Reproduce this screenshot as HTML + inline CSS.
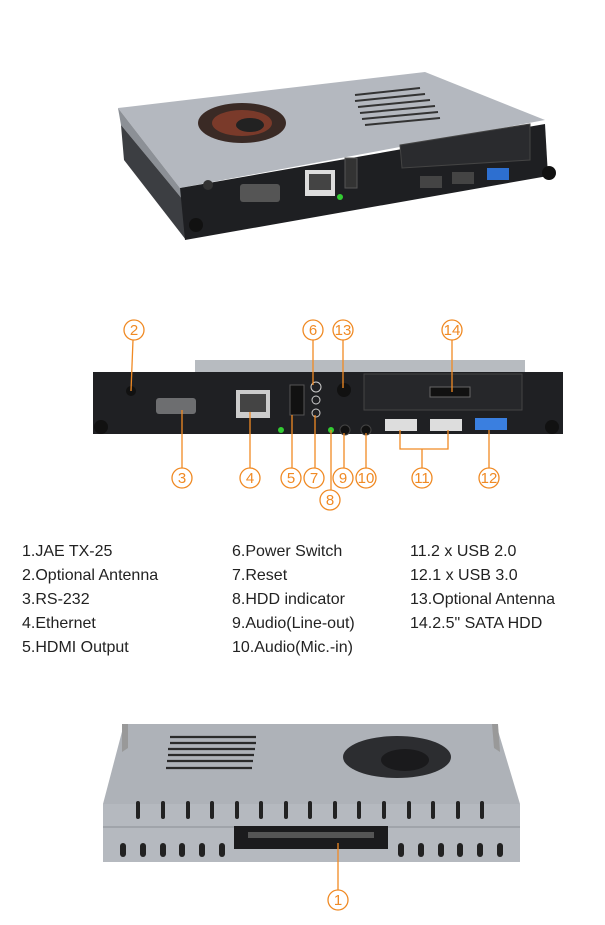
<!DOCTYPE html>
<html><head><meta charset="utf-8"><style>
html,body{margin:0;padding:0;background:#fff}
svg{display:block}
.t{font-family:"Liberation Sans Narrow","Liberation Sans",sans-serif;font-size:16px;fill:#222}
.c{fill:#fff;stroke:#f08a24;stroke-width:1.3}
.n{font-family:"Liberation Sans Narrow","Liberation Sans",sans-serif;font-size:15px;fill:#f08a24;text-anchor:middle}
.l{stroke:#f08a24;stroke-width:1.3;fill:none}
</style></head><body>
<svg width="605" height="925" viewBox="0 0 605 925" xmlns="http://www.w3.org/2000/svg">
<!-- TOP DEVICE -->
<polygon points="118,108 425,72 545,120 180,188" fill="#b4b8bf"/>
<polygon points="118,108 180,188 183,200 121,125" fill="#8c9096"/>
<polygon points="121,125 183,200 186,240 124,160" fill="#3c3e42"/>
<ellipse cx="242" cy="123" rx="44" ry="20" fill="#3a2a25"/>
<ellipse cx="242" cy="123" rx="30" ry="13" fill="#7a3a2a"/>
<ellipse cx="250" cy="125" rx="14" ry="7" fill="#222"/>
<g stroke="#333" stroke-width="2">
<line x1="355" y1="95" x2="420" y2="88"/><line x1="355" y1="101" x2="425" y2="94"/>
<line x1="358" y1="107" x2="430" y2="100"/><line x1="360" y1="113" x2="435" y2="106"/>
<line x1="362" y1="119" x2="438" y2="112"/><line x1="365" y1="125" x2="440" y2="118"/>
</g>
<polygon points="180,188 545,124 548,176 185,240" fill="#1e1f22"/>
<polygon points="400,145 530,124 530,160 402,168" fill="#2a2b2e" stroke="#444"/>
<rect x="240" y="184" width="40" height="18" rx="3" fill="#555"/>
<rect x="305" y="170" width="30" height="26" fill="#ddd"/><rect x="309" y="174" width="22" height="16" fill="#444"/>
<rect x="345" y="158" width="12" height="30" fill="#333" stroke="#555"/>
<rect x="420" y="176" width="22" height="12" fill="#444"/><rect x="452" y="172" width="22" height="12" fill="#444"/>
<rect x="487" y="168" width="22" height="12" fill="#2d6fd0"/>
<circle cx="208" cy="185" r="5" fill="#333"/>
<circle cx="196" cy="225" r="7" fill="#111"/><circle cx="549" cy="173" r="7" fill="#111"/>
<circle cx="340" cy="197" r="3" fill="#3c3"/>

<!-- MIDDLE DEVICE -->
<rect x="195" y="360" width="330" height="13" fill="#b7bbc0"/>
<rect x="93" y="372" width="470" height="62" fill="#1f2023"/>
<rect x="364" y="374" width="158" height="36" fill="#26272a" stroke="#444"/>
<rect x="430" y="387" width="40" height="10" fill="#111" stroke="#666"/>
<circle cx="131" cy="391" r="5" fill="#111"/>
<rect x="156" y="398" width="40" height="16" rx="3" fill="#6d6e70"/>
<rect x="236" y="390" width="34" height="28" fill="#ccc"/><rect x="240" y="394" width="26" height="18" fill="#444"/>
<rect x="290" y="385" width="14" height="30" fill="#111" stroke="#555"/>
<circle cx="316" cy="387" r="5" fill="none" stroke="#ccc"/><circle cx="316" cy="400" r="4" fill="none" stroke="#ccc"/><circle cx="316" cy="413" r="4" fill="none" stroke="#ccc"/>
<circle cx="344" cy="390" r="7" fill="#111"/>
<circle cx="345" cy="430" r="5" fill="#111" stroke="#444"/><circle cx="366" cy="430" r="5" fill="#111" stroke="#444"/>
<rect x="385" y="419" width="32" height="12" fill="#ddd"/><rect x="430" y="419" width="32" height="12" fill="#ddd"/>
<rect x="475" y="418" width="32" height="12" fill="#3a7fe0"/>
<circle cx="101" cy="427" r="7" fill="#111"/><circle cx="552" cy="427" r="7" fill="#111"/>
<circle cx="281" cy="430" r="3" fill="#3c3"/><circle cx="331" cy="430" r="3" fill="#3c3"/>

<!-- callouts -->
<line class="l" x1="133" y1="340" x2="131" y2="391"/>
<line class="l" x1="313" y1="340" x2="313" y2="385"/>
<line class="l" x1="343" y1="340" x2="343" y2="388"/>
<line class="l" x1="452" y1="340" x2="452" y2="392"/>
<line class="l" x1="182" y1="410" x2="182" y2="468"/>
<line class="l" x1="250" y1="412" x2="250" y2="468"/>
<line class="l" x1="292" y1="415" x2="292" y2="468"/>
<line class="l" x1="315" y1="415" x2="315" y2="468"/>
<line class="l" x1="331" y1="430" x2="331" y2="490"/>
<line class="l" x1="344" y1="433" x2="344" y2="468"/>
<line class="l" x1="366" y1="433" x2="366" y2="468"/>
<polyline class="l" points="400,430 400,449 448,449 448,430"/>
<line class="l" x1="422" y1="449" x2="422" y2="468"/>
<line class="l" x1="489" y1="430" x2="489" y2="468"/>
<g>
<circle class="c" cx="134" cy="330" r="10"/><text class="n" x="134" y="335">2</text>
<circle class="c" cx="313" cy="330" r="10"/><text class="n" x="313" y="335">6</text>
<circle class="c" cx="343" cy="330" r="10"/><text class="n" x="343" y="335">13</text>
<circle class="c" cx="452" cy="330" r="10"/><text class="n" x="452" y="335">14</text>
<circle class="c" cx="182" cy="478" r="10"/><text class="n" x="182" y="483">3</text>
<circle class="c" cx="250" cy="478" r="10"/><text class="n" x="250" y="483">4</text>
<circle class="c" cx="291" cy="478" r="10"/><text class="n" x="291" y="483">5</text>
<circle class="c" cx="314" cy="478" r="10"/><text class="n" x="314" y="483">7</text>
<circle class="c" cx="343" cy="478" r="10"/><text class="n" x="343" y="483">9</text>
<circle class="c" cx="366" cy="478" r="10"/><text class="n" x="366" y="483">10</text>
<circle class="c" cx="422" cy="478" r="10"/><text class="n" x="422" y="483">11</text>
<circle class="c" cx="489" cy="478" r="10"/><text class="n" x="489" y="483">12</text>
<circle class="c" cx="330" cy="500" r="10"/><text class="n" x="330" y="505">8</text>
</g>

<!-- LEGEND -->
<g class="t">
<text x="22" y="556">1.JAE TX-25</text>
<text x="22" y="580">2.Optional Antenna</text>
<text x="22" y="604">3.RS-232</text>
<text x="22" y="628">4.Ethernet</text>
<text x="22" y="652">5.HDMI Output</text>
<text x="232" y="556">6.Power Switch</text>
<text x="232" y="580">7.Reset</text>
<text x="232" y="604">8.HDD indicator</text>
<text x="232" y="628">9.Audio(Line-out)</text>
<text x="232" y="652">10.Audio(Mic.-in)</text>
<text x="410" y="556">11.2 x USB 2.0</text>
<text x="410" y="580">12.1 x USB 3.0</text>
<text x="410" y="604">13.Optional Antenna</text>
<text x="410" y="628">14.2.5" SATA HDD</text>
</g>

<!-- BOTTOM DEVICE -->
<polygon points="124,724 496,724 520,804 103,804" fill="#aeb2b8"/>
<polygon points="122,724 128,724 128,748 122,752" fill="#999"/>
<polygon points="492,724 498,724 500,752 494,748" fill="#999"/>
<g stroke="#2a2a2a" stroke-width="2.2">
<line x1="170" y1="737" x2="256" y2="737"/><line x1="170" y1="743" x2="256" y2="743"/>
<line x1="168" y1="749" x2="255" y2="749"/><line x1="168" y1="755" x2="254" y2="755"/>
<line x1="167" y1="761" x2="253" y2="761"/><line x1="166" y1="768" x2="252" y2="768"/>
</g>
<ellipse cx="397" cy="757" rx="54" ry="21" fill="#2c2d30"/>
<ellipse cx="405" cy="760" rx="24" ry="11" fill="#1a1a1c"/>
<rect x="103" y="804" width="417" height="58" fill="#b5b9bf"/>
<line x1="103" y1="827" x2="520" y2="827" stroke="#8a8e94"/>
<g fill="#222">
<rect x="136" y="801" width="4" height="18" rx="2"/><rect x="161" y="801" width="4" height="18" rx="2"/>
<rect x="186" y="801" width="4" height="18" rx="2"/><rect x="210" y="801" width="4" height="18" rx="2"/>
<rect x="235" y="801" width="4" height="18" rx="2"/><rect x="259" y="801" width="4" height="18" rx="2"/>
<rect x="284" y="801" width="4" height="18" rx="2"/><rect x="308" y="801" width="4" height="18" rx="2"/>
<rect x="333" y="801" width="4" height="18" rx="2"/><rect x="357" y="801" width="4" height="18" rx="2"/>
<rect x="382" y="801" width="4" height="18" rx="2"/><rect x="407" y="801" width="4" height="18" rx="2"/>
<rect x="431" y="801" width="4" height="18" rx="2"/><rect x="456" y="801" width="4" height="18" rx="2"/>
<rect x="480" y="801" width="4" height="18" rx="2"/>
<rect x="120" y="843" width="6" height="14" rx="3"/><rect x="140" y="843" width="6" height="14" rx="3"/>
<rect x="160" y="843" width="6" height="14" rx="3"/><rect x="179" y="843" width="6" height="14" rx="3"/>
<rect x="199" y="843" width="6" height="14" rx="3"/><rect x="219" y="843" width="6" height="14" rx="3"/>
<rect x="398" y="843" width="6" height="14" rx="3"/><rect x="418" y="843" width="6" height="14" rx="3"/>
<rect x="438" y="843" width="6" height="14" rx="3"/><rect x="457" y="843" width="6" height="14" rx="3"/>
<rect x="477" y="843" width="6" height="14" rx="3"/><rect x="497" y="843" width="6" height="14" rx="3"/>
</g>
<rect x="234" y="826" width="154" height="23" fill="#1b1b1d"/>
<rect x="248" y="832" width="126" height="6" fill="#555"/>
<line class="l" x1="338" y1="843" x2="338" y2="890"/>
<circle class="c" cx="338" cy="900" r="10"/><text class="n" x="338" y="905">1</text>
</svg>
</body></html>
